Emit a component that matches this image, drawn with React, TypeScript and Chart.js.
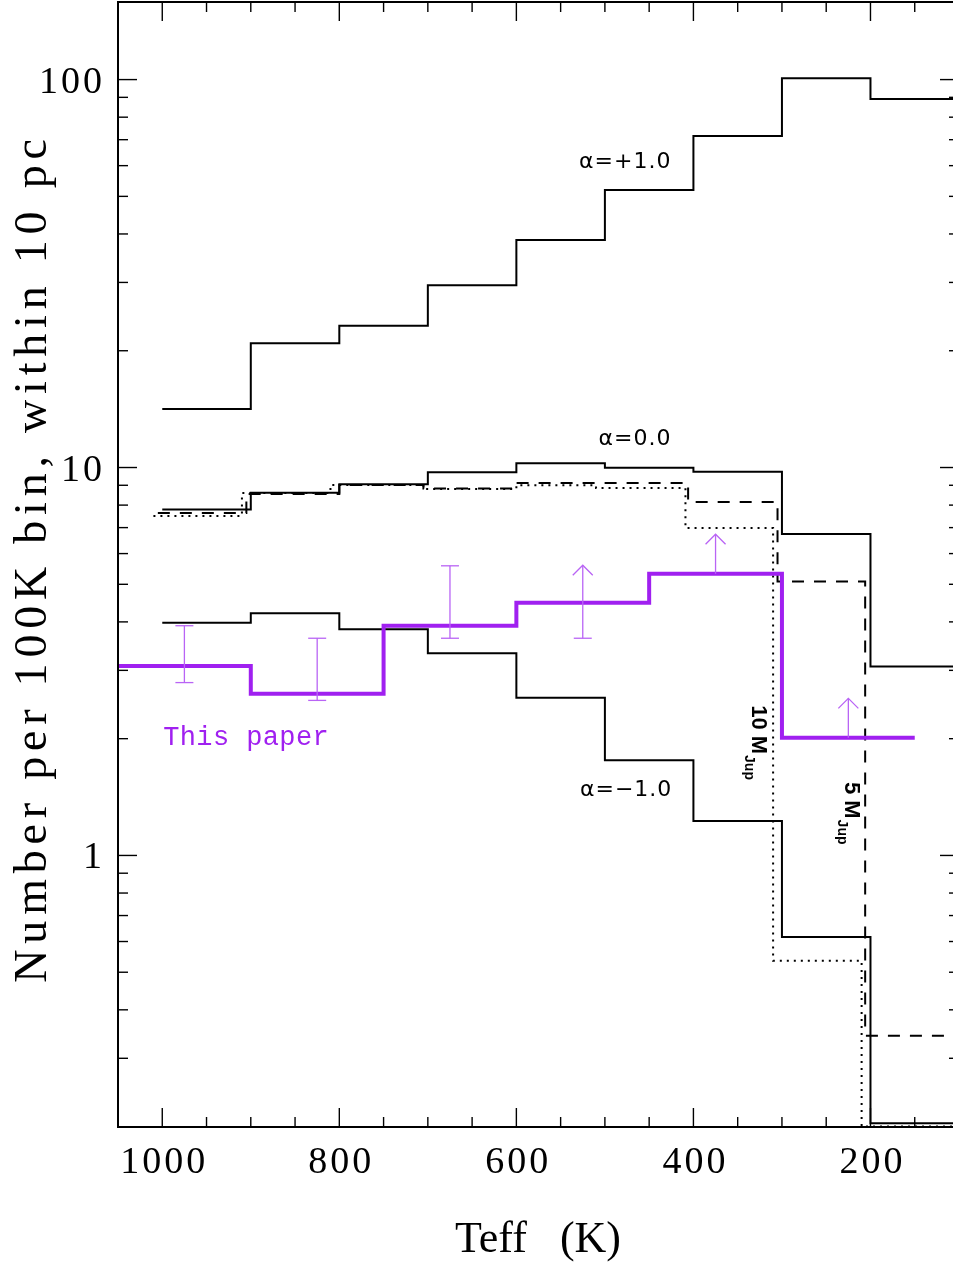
import React, { useEffect, useRef } from 'react';
import { Chart, registerables } from 'chart.js';

Chart.register(...registerables);

// ---- data (Teff bin edges in K, numbers per 100K bin within 10 pc) ----
const stdEdges = [1000, 900, 800, 700, 600, 500, 400, 300, 200, 100];
const alphaPlusValues = [14.15, 20.9, 23.2, 29.5, 38.6, 51.9, 71.5, 100.8, 89.1];
const alphaZeroValues = [7.8, 8.61, 9.05, 9.72, 10.25, 9.99, 9.75, 6.74, 3.07];
const alphaMinusValues = [3.98, 4.21, 3.83, 3.32, 2.55, 1.76, 1.227, 0.616, 0.204];

const mass5Edges = [1005, 905, 800, 705, 600, 406, 305, 206, 100];
const mass5Values = [7.63, 8.55, 9.02, 8.83, 9.12, 8.15, 5.08, 0.343];

const mass10Edges = [1010, 910, 810, 705, 600, 510, 409, 310, 210, 100];
const mass10Values = [7.5, 8.6, 9.02, 8.8, 9.0, 8.85, 6.98, 0.535, 0.2];

const thisPaperEdges = [1050, 900, 750, 600, 450, 300, 150];
const thisPaperValues = [3.08, 2.61, 3.91, 4.48, 5.32, 2.01];

// error bars (two-sided)
const errTeff = [975, 825, 675];
const errLow = [2.79, 2.51, 3.63];
const errHigh = [3.91, 3.63, 5.58];
// lower limits (arrows)
const limTeff = [525, 375, 225];
const limBase = [3.63, 5.32, 2.01];
const limTip = [5.6, 6.73, 2.54];
const limCap = [true, false, false];

// axes
const xMin = 100;
const xMax = 1050;
const yMin = Math.pow(10, -0.7);
const yMax = Math.pow(10, 2.2);
const xMajorTicks = [1000, 800, 600, 400, 200];
const xTickLabels = ['1000', '800', '600', '400', '200'];
const xMinorTicks = [950, 900, 850, 750, 700, 650, 550, 500, 450, 350, 300, 250, 150];
const yMajorTicks = [1, 10, 100];
const yTickLabels = ['1', '10', '100'];
const yMinorTicks = [0.3, 0.4, 0.5, 0.6, 0.7, 0.8, 0.9, 2, 3, 4, 5, 6, 7, 8, 9, 20, 30, 40, 50, 60, 70, 80, 90];

// annotations (anchored in data coordinates)
const alphaLabels = ['α=+1.0', 'α=0.0', 'α=−1.0'];
const alphaLabelTeff = [477, 466, 476];
const alphaLabelVal = [59.2, 11.4, 1.42];
const massLabels = ['10 M', '5 M'];
const massLabelTeff = [333.4, 228.3];
const massLabelVal = [2.44, 1.547];
const thisPaperLabel = 'This paper';
const thisPaperLabelTeff = 999;
const thisPaperLabelVal = 1.93;

const PURPLE = '#A020F0';
const ERR_COLOR = '#b964f5';

function toSteps(edges: number[], values: number[]) {
  const pts = values.map((v, i) => ({ x: edges[i], y: v }));
  pts.push({ x: edges[edges.length - 1], y: values[values.length - 1] });
  return pts;
}

const customDraw = {
  id: 'customDraw',
  afterDraw(chart: any) {
    const { ctx, chartArea: a, scales } = chart;
    const xs = scales.x;
    const ys = scales.y;
    const line = (x1: number, y1: number, x2: number, y2: number) => {
      ctx.beginPath();
      ctx.moveTo(x1, y1);
      ctx.lineTo(x2, y2);
      ctx.stroke();
    };
    ctx.save();

    // error bars
    ctx.strokeStyle = ERR_COLOR;
    ctx.lineWidth = 1.3;
    errTeff.forEach((t, i) => {
      const px = xs.getPixelForValue(t);
      const y1 = ys.getPixelForValue(errLow[i]);
      const y2 = ys.getPixelForValue(errHigh[i]);
      line(px, y1, px, y2);
      line(px - 9, y1, px + 9, y1);
      line(px - 9, y2, px + 9, y2);
    });
    limTeff.forEach((t, i) => {
      const px = xs.getPixelForValue(t);
      const yb = ys.getPixelForValue(limBase[i]);
      const yt = ys.getPixelForValue(limTip[i]);
      line(px, yb, px, yt);
      ctx.beginPath();
      ctx.moveTo(px - 10, yt + 10);
      ctx.lineTo(px, yt);
      ctx.lineTo(px + 10, yt + 10);
      ctx.stroke();
      if (limCap[i]) line(px - 9, yb, px + 9, yb);
    });

    // frame
    ctx.strokeStyle = '#000';
    ctx.lineWidth = 2;
    ctx.strokeRect(a.left, a.top, a.right - a.left, a.bottom - a.top);

    // ticks
    ctx.lineWidth = 1.4;
    const xt = (v: number, len: number) => {
      const px = xs.getPixelForValue(v);
      line(px, a.bottom, px, a.bottom - len);
      line(px, a.top, px, a.top + len);
    };
    const yt = (v: number, len: number) => {
      const py = ys.getPixelForValue(v);
      line(a.left, py, a.left + len, py);
      line(a.right, py, a.right - len, py);
    };
    xMajorTicks.forEach((v) => xt(v, 19));
    xMinorTicks.forEach((v) => xt(v, 10));
    yMajorTicks.forEach((v) => yt(v, 19));
    yMinorTicks.forEach((v) => yt(v, 10));

    // tick labels
    ctx.fillStyle = '#000';
    ctx.font = '38px "Liberation Serif"';
    (ctx as any).letterSpacing = '3px';
    ctx.textBaseline = 'alphabetic';
    ctx.textAlign = 'center';
    xMajorTicks.forEach((v, i) => {
      ctx.fillText(xTickLabels[i], xs.getPixelForValue(v) + 2, a.bottom + 46);
    });
    ctx.textAlign = 'right';
    yMajorTicks.forEach((v, i) => {
      ctx.fillText(yTickLabels[i], 105, ys.getPixelForValue(v) + 13);
    });

    // axis titles
    ctx.font = '44px "Liberation Serif"';
    (ctx as any).letterSpacing = '0px';
    ctx.textAlign = 'center';
    ctx.fillText('Teff   (K)', 538, 1252);

    ctx.save();
    ctx.translate(46, 558);
    ctx.rotate(-Math.PI / 2);
    ctx.font = '46px "Liberation Serif"';
    (ctx as any).letterSpacing = '5.8px';
    ctx.fillText('Number per 100K bin, within 10 pc', 0, 0);
    ctx.restore();
    (ctx as any).letterSpacing = '0px';

    // alpha labels
    ctx.font = '22px "DejaVu Sans"';
    (ctx as any).letterSpacing = '1px';
    ctx.textAlign = 'center';
    alphaLabels.forEach((s, i) => {
      ctx.fillText(s, xs.getPixelForValue(alphaLabelTeff[i]), ys.getPixelForValue(alphaLabelVal[i]));
    });
    (ctx as any).letterSpacing = '0px';

    // mass labels, rotated
    massLabels.forEach((s, i) => {
      const px = xs.getPixelForValue(massLabelTeff[i]);
      const py = ys.getPixelForValue(massLabelVal[i]);
      ctx.save();
      ctx.translate(px, py);
      ctx.rotate(Math.PI / 2);
      ctx.textAlign = 'left';
      ctx.font = 'bold 22px "Liberation Sans"';
      ctx.fillText(s, 0, 0);
      const w = ctx.measureText(s).width;
      ctx.font = 'bold 14px "Liberation Sans"';
      ctx.fillText('Jup', w + 1, 7);
      ctx.restore();
    });

    // this paper label
    ctx.fillStyle = PURPLE;
    ctx.font = '27px "Liberation Mono"';
    (ctx as any).letterSpacing = '0.4px';
    ctx.textAlign = 'left';
    ctx.fillText(thisPaperLabel, xs.getPixelForValue(thisPaperLabelTeff), ys.getPixelForValue(thisPaperLabelVal));

    ctx.restore();
  },
};

export default function App() {
  const canvasRef = useRef<HTMLCanvasElement | null>(null);

  useEffect(() => {
    if (!canvasRef.current) return;
    const common = { pointRadius: 0, fill: false, stepped: 'before' as const, tension: 0 };
    const chart = new Chart(canvasRef.current, {
      type: 'line',
      data: {
        datasets: [
          { ...common, label: 'This paper', data: toSteps(thisPaperEdges, thisPaperValues), borderColor: PURPLE, borderWidth: 4 },
          { ...common, label: 'alpha=+1.0', data: toSteps(stdEdges, alphaPlusValues), borderColor: '#000', borderWidth: 2 },
          { ...common, label: 'alpha=0.0', data: toSteps(stdEdges, alphaZeroValues), borderColor: '#000', borderWidth: 2 },
          { ...common, label: 'alpha=-1.0', data: toSteps(stdEdges, alphaMinusValues), borderColor: '#000', borderWidth: 2 },
          { ...common, label: '5 MJup', data: toSteps(mass5Edges, mass5Values), borderColor: '#000', borderWidth: 2, borderDash: [12, 10] },
          { ...common, label: '10 MJup', data: toSteps(mass10Edges, mass10Values), borderColor: '#000', borderWidth: 2, borderDash: [2, 5] },
        ],
      },
      options: {
        responsive: false,
        animation: false,
        layout: { padding: { left: 118, right: 11, top: 2, bottom: 135 } },
        scales: {
          x: { type: 'linear', min: xMin, max: xMax, reverse: true, display: false },
          y: { type: 'logarithmic', min: yMin, max: yMax, display: false },
        },
        plugins: {
          legend: { display: false },
          tooltip: { enabled: false },
          title: { display: false },
        },
      },
      plugins: [customDraw],
    });
    return () => chart.destroy();
  }, []);

  return (
    <div style={{ position: 'absolute', left: 0, top: 0, width: 953, height: 1262, overflow: 'hidden', background: '#fff' }}>
      <canvas ref={canvasRef} width={970} height={1262} style={{ display: 'block' }} />
    </div>
  );
}
